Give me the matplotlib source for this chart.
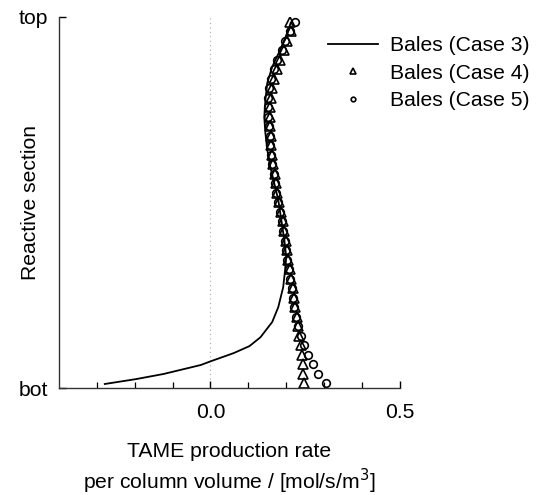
import numpy as np
import matplotlib.pyplot as plt
from matplotlib.ticker import FixedLocator

plt.rcParams['font.family'] = ['Liberation Sans', 'DejaVu Sans']
plt.rcParams['font.size'] = 15.2

# Case 3: continuous profile (stage coordinate, rate)
case3_stage = [0.93, 1.44, 1.98, 2.92, 3.35, 4.17, 4.91, 5.84, 7.44, 9.0,
               11.1, 12.9, 14.27, 16.06, 18.17, 20.27, 22.07, 23.74, 25.54,
               27.29, 28.97, 30.76, 32.56, 34.24, 36.03, 37.82, 38.9]
case3_rate = [-0.279, -0.197, -0.124, -0.026, 0.003, 0.061, 0.103, 0.132,
              0.163, 0.179, 0.192, 0.197, 0.200, 0.195, 0.187, 0.179, 0.168,
              0.158, 0.150, 0.145, 0.142, 0.145, 0.150, 0.163, 0.184, 0.203,
              0.212]

# Cases 4 and 5: one value per stage, listed from top stage down
stages = list(range(39, 0, -1))
case4_rate = [0.211, 0.213, 0.203, 0.195, 0.184, 0.176, 0.168, 0.163, 0.161,
              0.158, 0.158, 0.158, 0.161, 0.161, 0.163, 0.166, 0.171, 0.174,
              0.176, 0.182, 0.187, 0.192, 0.195, 0.200, 0.203, 0.205, 0.211,
              0.213, 0.218, 0.221, 0.224, 0.229, 0.232, 0.234, 0.239, 0.242,
              0.245, 0.245, 0.247]
case5_rate = [0.224, 0.211, 0.197, 0.189, 0.176, 0.168, 0.161, 0.155, 0.153,
              0.153, 0.153, 0.155, 0.158, 0.158, 0.161, 0.163, 0.168, 0.171,
              0.174, 0.179, 0.184, 0.189, 0.192, 0.197, 0.200, 0.203, 0.208,
              0.211, 0.216, 0.218, 0.221, 0.226, 0.232, 0.239, 0.247, 0.258,
              0.271, 0.284, 0.305]

fig = plt.figure(figsize=(5.36, 4.95), dpi=100)
ax = fig.add_axes([0.110, 0.216, 0.636, 0.750])

ax.axvline(0.0, color='#aaaaaa', lw=0.8, ls=(0, (1, 3)), zorder=0)

ax.plot(case3_rate, case3_stage, c='black', lw=1.3, label='Bales (Case 3)')
ax.plot(case4_rate, stages, '^', ms=6.5, mfc='none', mec='black', mew=1.2,
        label='Bales (Case 4)')
ax.plot(case5_rate, stages, 'o', ms=5.5, mfc='none', mec='black', mew=1.2,
        label='Bales (Case 5)')

ax.set_xlim(-0.4, 0.5)
ax.set_ylim(0.5, 39.5)
ax.spines['top'].set_visible(False)
ax.spines['right'].set_visible(False)
for s in ['left', 'bottom']:
    ax.spines[s].set_linewidth(1.0)
    ax.spines[s].set_color('#333333')

ax.xaxis.set_major_locator(FixedLocator([0.0, 0.5]))
ax.xaxis.set_minor_locator(FixedLocator([-0.3, -0.2, -0.1, 0.1, 0.2, 0.3, 0.4]))
ax.set_xticklabels(['0.0', '0.5'])
ax.set_yticks([0.5, 39.5])
ax.set_yticklabels(['bot', 'top'])
ax.tick_params(which='major', direction='in', length=5, width=1.0, pad=11)
ax.tick_params(which='minor', direction='in', length=4, width=0.9)
ax.tick_params(axis='y', pad=8)

ax.set_ylabel('Reactive section')
ax.yaxis.set_label_coords(-0.056, 0.5)
ax.set_xlabel('TAME production rate\nper column volume / [mol/s/m$^3$]',
              labelpad=14, linespacing=1.25)

fig.legend(loc='upper left', bbox_to_anchor=(0.597, 0.944), frameon=False,
           markerscale=0.6, handlelength=2.35, handletextpad=0.55,
           labelspacing=0.4, borderaxespad=0)

fig.savefig('out.png', dpi=100)
